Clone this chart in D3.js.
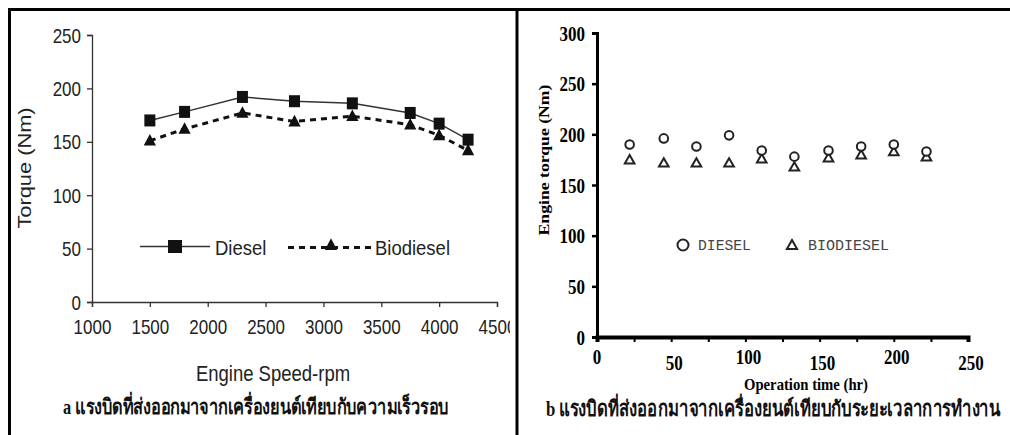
<!DOCTYPE html>
<html><head><meta charset="utf-8">
<script src="https://cdn.jsdelivr.net/npm/d3@7"></script>
<style>html,body{margin:0;padding:0;background:#fff;}svg{display:block;}</style>
</head><body>
<svg id="chart" width="1010" height="435"></svg>
<script>
// ---- Panel a data ----
const rpm = [1500, 1800, 2300, 2750, 3250, 3750, 4000, 4250];
const torqueDiesel = [170, 178, 192, 188, 186, 177, 167, 152];
const torqueBiodiesel = [151, 162, 177, 169, 174, 166, 156, 142];
const aXTicks = [1000, 1500, 2000, 2500, 3000, 3500, 4000, 4500];
const aYTicks = [0, 50, 100, 150, 200, 250];
const aLegend = ["Diesel", "Biodiesel"];
// ---- Panel b data ----
const hours = [22, 45, 67, 89, 111, 133, 156, 178, 200, 222];
const engDiesel = [190, 196, 188, 199, 184, 178, 184, 188, 190, 183];
const engBiodiesel = [175, 172, 172, 172, 176, 168, 177, 180, 183, 178];
const bXTicks = [0, 50, 100, 150, 200, 250];
const bXMinor = [25, 75, 125, 175, 225];
const bYTicks = [0, 50, 100, 150, 200, 250, 300];
const bLegend = ["DIESEL", "BIODIESEL"];
const captionA = "a แรงบิดที่ส่งออกมาจากเครื่องยนต์เทียบกับความเร็วรอบ";
const captionB = "b แรงบิดที่ส่งออกมาจากเครื่องยนต์เทียบกับระยะเวลาการทำงาน";

// vertical stretch helper (source picture is taller than wide)
function vstretch(sel, sy) {
  sel.each(function () {
    const t = d3.select(this);
    const x = +t.attr("x") || 0, y = +t.attr("y") || 0;
    t.attr("x", 0).attr("y", 0).attr("transform", `translate(${x},${y}) scale(1,${sy})`);
  });
}
// fit a text's natural width by adjusting its font size
function fitWidth(sel, w) {
  const n = sel.node();
  const fs = parseFloat(sel.attr("font-size"));
  const cur = n.getComputedTextLength();
  if (cur > 0) sel.attr("font-size", (fs * w / cur).toFixed(2));
  return sel;
}

const svg = d3.select("#chart");
const defs = svg.append("defs");
defs.append("clipPath").attr("id","clipA").append("rect").attr("x",0).attr("y",0).attr("width",510).attr("height",435);

svg.append("rect").attr("x",0).attr("y",0).attr("width",1010).attr("height",435).attr("fill","#fff");
const frame = svg.append("g").attr("stroke","#000").attr("stroke-width",3);
frame.append("line").attr("x1",8).attr("x2",1010).attr("y1",9.5).attr("y2",9.5);
frame.append("line").attr("x1",9.5).attr("x2",9.5).attr("y1",8).attr("y2",435);
frame.append("line").attr("x1",517).attr("x2",517).attr("y1",8).attr("y2",435);

// ================= Panel a =================
const gA = svg.append("g").attr("clip-path","url(#clipA)");
const xA = d3.scaleLinear().domain([1000,4500]).range([92,497]);
const yA = d3.scaleLinear().domain([0,250]).range([302,35]);
const fontA = "Liberation Sans, Arial, sans-serif";
const SA = 1.2;

const axA_x = gA.append("g").attr("transform","translate(0,302)")
  .call(d3.axisBottom(xA).tickValues(aXTicks).tickSize(5).tickPadding(13).tickFormat(d3.format("d")));
const axA_y = gA.append("g").attr("transform","translate(92,0)")
  .call(d3.axisLeft(yA).tickValues(aYTicks).tickSize(5).tickPadding(6));
[axA_x, axA_y].forEach(ax => {
  ax.selectAll("path").attr("stroke","#333").attr("stroke-width",1.3);
  ax.selectAll("line").attr("stroke","#333").attr("stroke-width",1.3);
  ax.selectAll("text").attr("font-family",fontA).attr("font-size",17).attr("fill","#222");
});
axA_y.selectAll("text").attr("dy","0.35em");
vstretch(axA_x.selectAll("text"), SA);
vstretch(axA_y.selectAll("text"), SA);

gA.append("text").attr("transform","translate(31,168) rotate(-90) scale(1.18,1)").attr("text-anchor","middle")
  .attr("font-family",fontA).attr("font-size",18.5).attr("fill","#222").text("Torque (Nm)");
vstretch(gA.append("text").attr("x",273).attr("y",381).attr("text-anchor","middle")
  .attr("font-family",fontA).attr("font-size",18.5).attr("fill","#222").text("Engine Speed-rpm"), SA);

const lineA = d3.line().x((d,i)=>xA(rpm[i])).y(d=>yA(d));
gA.append("path").datum(torqueDiesel).attr("d",lineA).attr("fill","none").attr("stroke","#333").attr("stroke-width",1.5);
gA.append("path").datum(torqueBiodiesel).attr("d",lineA).attr("fill","none").attr("stroke","#111").attr("stroke-width",3).attr("stroke-dasharray","6,5");

const sqW = 11, sqH = 12;
gA.selectAll("rect.sq").data(torqueDiesel).enter().append("rect")
  .attr("x",(d,i)=>xA(rpm[i])-sqW/2).attr("y",d=>yA(d)-sqH/2).attr("width",sqW).attr("height",sqH).attr("fill","#111");
const triA = d3.symbol().type(d3.symbolTriangle).size(65);
gA.selectAll("path.tri").data(torqueBiodiesel).enter().append("path")
  .attr("d",triA).attr("transform",(d,i)=>`translate(${xA(rpm[i])},${yA(d)+1}) scale(1,1.1)`).attr("fill","#111");

// legend a
const legA = gA.append("g");
legA.append("line").attr("x1",140).attr("x2",210).attr("y1",246.5).attr("y2",246.5).attr("stroke","#333").attr("stroke-width",1.5);
legA.append("rect").attr("x",168).attr("y",240).attr("width",14).attr("height",13).attr("fill","#111");
vstretch(legA.append("text").attr("x",215).attr("y",255).attr("font-family",fontA).attr("font-size",18.5).attr("fill","#222").text(aLegend[0]), 1.13);
legA.append("line").attr("x1",288).attr("x2",372).attr("y1",247.5).attr("y2",247.5).attr("stroke","#111").attr("stroke-width",3).attr("stroke-dasharray","6,5");
legA.append("path").attr("d",triA).attr("transform","translate(331,246) scale(1,1.1)").attr("fill","#111");
vstretch(legA.append("text").attr("x",375).attr("y",255).attr("font-family",fontA).attr("font-size",18.5).attr("fill","#222").text(aLegend[1]), 1.13);

const capA = svg.append("text").attr("x",63).attr("y",414).attr("font-family","Liberation Serif, serif").attr("font-weight","bold")
  .attr("font-size",17).attr("fill","#111").text(captionA);
fitWidth(capA, 390);
vstretch(capA, 1.3);

// ================= Panel b =================
const gB = svg.append("g");
const xB = d3.scaleLinear().domain([0,250]).range([597,968]);
const yB = d3.scaleLinear().domain([0,300]).range([337,33]);
const fontB = "Liberation Serif, Times New Roman, serif";
const SB = 1.18;

const axB_x = gB.append("g").attr("transform","translate(0,337)")
  .call(d3.axisBottom(xB).tickValues(bXTicks.concat(bXMinor)).tickSize(5).tickFormat(""));
axB_x.select("path").attr("stroke","#000").attr("stroke-width",4);
axB_x.selectAll("line").attr("stroke","#000").attr("stroke-width",2);
const bxl = gB.selectAll("text.bxt").data(bXTicks).enter().append("text")
  .attr("x",d=>xB(d)+(d===0?0:3)).attr("y",(d,i)=>i%2===0 ? 364 : 370)
  .attr("text-anchor","middle").attr("font-family",fontB).attr("font-weight","bold").attr("font-size",17).attr("fill","#000")
  .text(d=>d);
vstretch(bxl, SB);

const axB_y = gB.append("g").attr("transform","translate(597,0)")
  .call(d3.axisLeft(yB).tickValues(bYTicks).tickSize(5).tickPadding(7));
axB_y.select("path").attr("stroke","#000").attr("stroke-width",3);
axB_y.selectAll("line").attr("stroke","#000").attr("stroke-width",2.5);
axB_y.selectAll("text").attr("font-family",fontB).attr("font-weight","bold").attr("font-size",17).attr("fill","#000").attr("dy","0.35em");
vstretch(axB_y.selectAll("text"), SB);

gB.append("text").attr("transform","translate(549,160) rotate(-90) scale(1.18,1)").attr("text-anchor","middle")
  .attr("font-family",fontB).attr("font-weight","bold").attr("font-size",15).attr("fill","#000")
  .text("Engine torque (Nm)");
vstretch(gB.append("text").attr("x",806).attr("y",390).attr("text-anchor","middle")
  .attr("font-family",fontB).attr("font-weight","bold").attr("font-size",14.7).attr("fill","#000").text("Operation time (hr)"), SB);

const triB = d3.symbol().type(d3.symbolTriangle).size(40);
gB.selectAll("path.btri").data(engBiodiesel).enter().append("path")
  .attr("d",triB).attr("transform",(d,i)=>`translate(${xB(hours[i])},${yB(d)+1})`)
  .attr("fill","#fff").attr("stroke","#222").attr("stroke-width",2);
gB.selectAll("circle.bc").data(engDiesel).enter().append("circle")
  .attr("cx",(d,i)=>xB(hours[i])).attr("cy",d=>yB(d)).attr("r",4.3)
  .attr("fill","#fff").attr("stroke","#222").attr("stroke-width",2);

// legend b
const legB = gB.append("g");
const monoB = "Liberation Mono, Courier New, monospace";
legB.append("circle").attr("cx",683).attr("cy",245).attr("r",5.5).attr("fill","none").attr("stroke","#222").attr("stroke-width",2);
legB.append("text").attr("x",698).attr("y",249.5).attr("font-family",monoB).attr("font-size",14.7).attr("fill","#444").text(bLegend[0]);
legB.append("path").attr("d",d3.symbol().type(d3.symbolTriangle).size(45)).attr("transform","translate(792,246)")
  .attr("fill","none").attr("stroke","#222").attr("stroke-width",2);
legB.append("text").attr("x",808).attr("y",249.5).attr("font-family",monoB).attr("font-size",15).attr("fill","#444").text(bLegend[1]);

const capB = svg.append("text").attr("x",546).attr("y",416).attr("font-family","Liberation Serif, serif").attr("font-weight","bold")
  .attr("font-size",17).attr("fill","#111").text(captionB);
fitWidth(capB, 455);
vstretch(capB, 1.3);
</script>
</body></html>
